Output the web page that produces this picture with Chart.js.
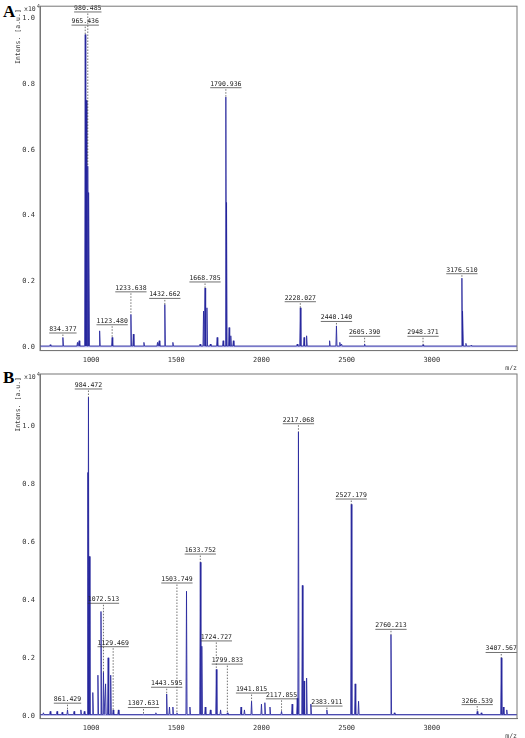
<!DOCTYPE html>
<html><head><meta charset="utf-8">
<script src="https://cdn.jsdelivr.net/npm/chart.js@4/dist/chart.umd.min.js"></script>
<style>
body{margin:0;background:#fff;width:525px;height:738px;position:relative;overflow:hidden}
.p{position:absolute;left:0;width:525px}
.L{position:absolute;left:3px;font:bold 17px "Liberation Serif",serif}
</style></head><body>
<div class="L" style="top:2px">A</div>
<div class="L" style="top:368px">B</div>
<div class="p" style="top:0;height:370px"><canvas id="a"></canvas></div>
<div class="p" style="top:366px;height:372px"><canvas id="b"></canvas></div>
<script>
// Panel A peaks
const peaksA_mz = [760,834.377,920,930,965.436,972,980.485,987,1050,1123.48,1233.638,1248,1310,1390,1400,1432.662,1480,1640,1660,1668.785,1680,1700,1740,1775,1790.936,1795,1810,1820,1835,2210,2228.027,2250,2265,2400,2440.14,2460,2470,2605.39,2948.371,3176.51,3182,3200,3230];
const peaksA_int = [0.008,0.03,0.015,0.02,0.95,0.75,0.55,0.47,0.05,0.03,0.10,0.04,0.015,0.015,0.02,0.13,0.015,0.01,0.11,0.18,0.12,0.01,0.03,0.02,0.76,0.44,0.06,0.035,0.02,0.01,0.12,0.03,0.035,0.02,0.065,0.015,0.01,0.01,0.008,0.21,0.11,0.012,0.006];
const labelsA_mz = [834.377,965.436,980.485,1123.48,1233.638,1432.662,1668.785,1790.936,2228.027,2440.14,2605.39,2948.371,3176.51];
const labelsA_txt = ["834.377","965.436","980.485","1123.480","1233.638","1432.662","1668.785","1790.936","2228.027","2440.140","2605.390","2948.371","3176.510"];
const labelsA_y = [0.045,0.98,1.02,0.07,0.17,0.15,0.20,0.79,0.14,0.08,0.035,0.035,0.225];
// Panel B peaks
const peaksB_mz = [720,760,800,830,861.429,900,940,960,981,984.472,990,1010,1040,1058,1072.513,1085,1100,1115,1129.469,1160,1307.631,1380,1443.595,1460,1480,1503.749,1560,1580,1641,1650,1670,1700,1735,1760,1799.833,1880,1900,1941.815,2000,2020,2050,2117.855,2180,2210,2217.068,2240,2250,2265,2290,2383.911,2527.179,2550,2570,2760.213,2780,3266.539,3290,3407.567,3420,3440];
const peaksB_int = [0.01,0.015,0.015,0.012,0.02,0.015,0.02,0.015,0.84,1.1,0.55,0.08,0.14,0.36,0.15,0.11,0.2,0.14,0.02,0.02,0.005,0.01,0.075,0.03,0.03,0.01,0.43,0.03,0.53,0.24,0.03,0.02,0.16,0.02,0.01,0.03,0.02,0.05,0.04,0.045,0.03,0.015,0.04,0.06,0.98,0.45,0.12,0.13,0.04,0.02,0.73,0.11,0.05,0.28,0.01,0.015,0.01,0.2,0.03,0.02];
const labelsB_mz = [861.429,984.472,1072.513,1129.469,1307.631,1443.595,1503.749,1641,1735,1799.833,1941.815,2117.855,2217.068,2383.911,2527.179,2760.213,3266.539,3407.567];
const labelsB_txt = ["861.429","984.472","1072.513","1129.469","1307.631","1443.595","1503.749","1633.752","1724.727","1799.833","1941.815","2117.855","2217.068","2383.911","2527.179","2760.213","3266.539","3407.567"];
const labelsB_y = [0.045,1.13,0.39,0.24,0.03,0.1,0.46,0.56,0.26,0.18,0.08,0.06,1.01,0.035,0.75,0.3,0.04,0.22];
const xTicks=[1000,1500,2000,2500,3000];
const yTicks=[0,0.2,0.4,0.6,0.8,1.0];

function spectrum(mz,inten){
  const pts=[{x:700,y:0.004}];
  const idx=mz.map((m,i)=>i).sort((a,b)=>mz[a]-mz[b]);
  idx.forEach(i=>{pts.push({x:mz[i]-3.5,y:0.004});pts.push({x:mz[i],y:inten[i]});pts.push({x:mz[i]+3.5,y:0.004});});
  pts.push({x:3500,y:0.004});
  return pts;
}
const annot={id:'annot',afterDatasetsDraw(c){
  const ctx=c.ctx,x=c.scales.x,y=c.scales.y,L=c.options.plugins.annot;
  ctx.save();
  ctx.font='6.5px "DejaVu Sans Mono",monospace';ctx.fillStyle='#222';ctx.strokeStyle='#333';ctx.textAlign='center';ctx.textBaseline='bottom';
  L.mz.forEach((m,i)=>{
    const px=x.getPixelForValue(m),py=y.getPixelForValue(L.y[i]);
    let top=y.getPixelForValue(0.005);
    let h=0;L.pmz.forEach((pm,j)=>{if(Math.abs(pm-m)<1)h=Math.max(h,L.pint[j]);});
    if(h>0) top=y.getPixelForValue(h);
    ctx.fillText(L.txt[i],px,py);
    const w=ctx.measureText(L.txt[i]).width;
    ctx.lineWidth=0.7;ctx.setLineDash([]);
    ctx.beginPath();ctx.moveTo(px-w/2,py+0.5);ctx.lineTo(px+w/2,py+0.5);ctx.stroke();
    ctx.setLineDash([1.5,1.5]);
    ctx.beginPath();ctx.moveTo(px,py+2);ctx.lineTo(px,Math.max(top,py+2));ctx.stroke();
  });
  ctx.setLineDash([]);
  ctx.font='6.5px "DejaVu Sans Mono",monospace';ctx.fillStyle='#333';
  ctx.textAlign='right';ctx.textBaseline='top';
  ctx.fillText('m/z',c.chartArea.right,c.chartArea.bottom+14);
  ctx.save();ctx.translate(c.chartArea.left-22,c.chartArea.top+3);ctx.rotate(-Math.PI/2);
  ctx.textAlign='right';ctx.textBaseline='middle';ctx.fillText('Intens. [a.u.]',0,0);ctx.restore();
  ctx.textAlign='left';ctx.textBaseline='top';ctx.fillText('x10',c.chartArea.left-16,c.chartArea.top);
  ctx.font='5px sans-serif';ctx.fillText('4',c.chartArea.left-3,c.chartArea.top-2);
  ctx.restore();
}};
function make(id,pmz,pint,lmz,ltxt,ly,ymax,pad){
  new Chart(document.getElementById(id),{type:'line',
    data:{datasets:[{data:spectrum(pmz,pint),borderColor:'#22229a',borderWidth:0.8,backgroundColor:'rgba(110,110,210,0.55)',fill:'origin',pointRadius:0,tension:0}]},
    options:{responsive:true,maintainAspectRatio:false,animation:false,
      layout:{padding:pad},
      plugins:{legend:{display:false},tooltip:{enabled:false},annot:{mz:lmz,txt:ltxt,y:ly,pmz:pmz,pint:pint}},
      scales:{
        x:{type:'linear',min:700,max:3500,
          afterBuildTicks:s=>{s.ticks=xTicks.map(v=>({value:v}));},
          ticks:{font:{family:'DejaVu Sans Mono',size:7},color:'#333',maxRotation:0,padding:2,callback:v=>String(v)},
          grid:{display:false,drawTicks:true,tickLength:3},border:{color:'#777'}},
        y:{min:-0.01,max:ymax,
          afterBuildTicks:s=>{s.ticks=yTicks.map(v=>({value:v}));},
          afterFit:s=>{s.width=40;},
          ticks:{font:{family:'DejaVu Sans Mono',size:7},color:'#333',callback:v=>v.toFixed(1),padding:2},
          grid:{display:false,tickLength:3},border:{color:'#777'}}
      }}, plugins:[annot,{id:'frame',afterDraw(c){const a=c.chartArea,ctx=c.ctx;ctx.save();ctx.strokeStyle='#777';ctx.lineWidth=1;ctx.strokeRect(a.left,a.top,a.right-a.left,a.bottom-a.top);ctx.restore();}}]});
}
make('a',peaksA_mz,peaksA_int,labelsA_mz,labelsA_txt,labelsA_y,1.036,{top:5,right:8,bottom:4,left:0});
make('b',peaksB_mz,peaksB_int,labelsB_mz,labelsB_txt,labelsB_y,1.18,{top:8,right:8,bottom:4,left:0});
</script></body></html>
